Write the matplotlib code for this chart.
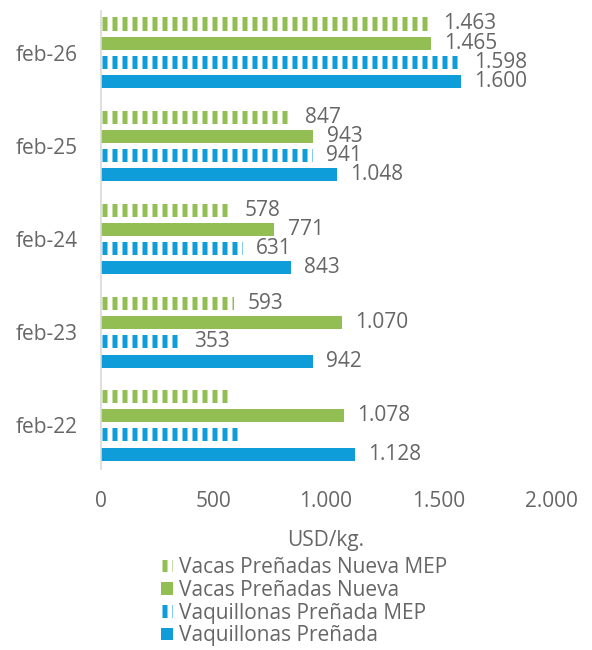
import matplotlib
matplotlib.use('Agg')
import matplotlib.pyplot as plt
import numpy as np

# data (USD/kg)
categorias = ['feb-22', 'feb-23', 'feb-24', 'feb-25', 'feb-26']
vacas_mep = [580, 593, 578, 847, 1463]
vacas = [1078, 1070, 771, 943, 1465]
vaq_mep = [607, 353, 631, 941, 1598]
vaq = [1128, 942, 843, 1048, 1600]
ticks_x = [0, 500, 1000, 1500, 2000]

plt.rcParams['font.family'] = ['Open Sans', 'DejaVu Sans']
plt.rcParams['hatch.linewidth'] = 3.0

verde = '#92BE53'
azul = '#0E9DD9'
gris = '#666666'


def fmt(v):
    return f"{v:,}".replace(',', '.')


fig = plt.figure(figsize=(592 / 120, 650 / 120), dpi=120)
ax = fig.add_axes([101 / 592, 1 - 469 / 650, 450 / 592, 458 / 650])

y = np.arange(len(categorias))
paso = 0.207
alto = 0.14

series = [
    (vacas_mep, 'Vacas Preñadas Nueva MEP', verde, True, 1.5 * paso),
    (vacas, 'Vacas Preñadas Nueva', verde, False, 0.5 * paso),
    (vaq_mep, 'Vaquillonas Preñada MEP', azul, True, -0.5 * paso),
    (vaq, 'Vaquillonas Preñada', azul, False, -1.5 * paso),
]

for vals, nombre, color, mep, off in series:
    if mep:
        barras = ax.barh(y + off, vals, height=alto, facecolor='white',
                         edgecolor=color, hatch='||', linewidth=0, label=nombre)
        etiquetas = [''] + [fmt(v) for v in vals[1:]]
    else:
        barras = ax.barh(y + off, vals, height=alto, color=color,
                         linewidth=0, label=nombre)
        etiquetas = [fmt(v) for v in vals]
    ax.bar_label(barras, labels=etiquetas, padding=8, fontsize=12.5, color=gris)

ax.set_xlim(0, 2000)
ax.set_ylim(-0.47, 4.45)
ax.set_xticks(ticks_x)
ax.set_xticklabels([fmt(t) for t in ticks_x])
ax.set_yticks(y)
ax.set_yticklabels(categorias)
ax.tick_params(axis='x', length=0, pad=13, labelsize=12.5, labelcolor=gris)
ax.tick_params(axis='y', length=0, pad=14, labelsize=12.5, labelcolor=gris)
for s in ['top', 'right', 'bottom']:
    ax.spines[s].set_visible(False)
ax.spines['left'].set_color('#D9D9D9')
ax.spines['left'].set_linewidth(1)

ax.set_xlabel('USD/kg.', fontsize=12.5, color=gris, labelpad=11)

leg = fig.legend(loc='upper left', bbox_to_anchor=(153 / 592, 1 - 549 / 650),
                 frameon=False, fontsize=12.5, handlelength=0.55, handleheight=0.55,
                 handletextpad=0.3, labelspacing=0.08, borderaxespad=0)
for t in leg.get_texts():
    t.set_color(gris)

fig.savefig('out.png', dpi=120)
